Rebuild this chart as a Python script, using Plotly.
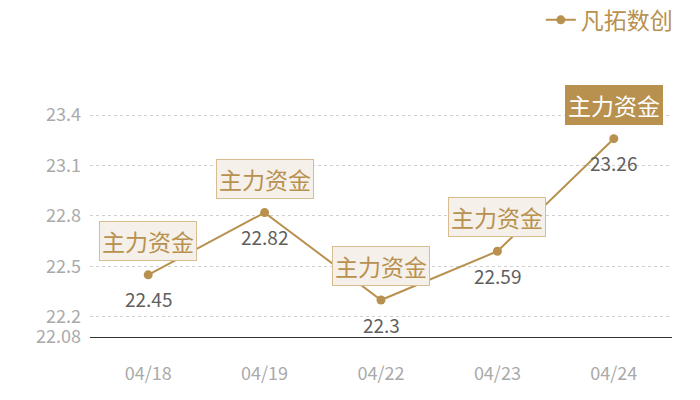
import plotly.graph_objects as go

# data
dates = ["04/18", "04/19", "04/22", "04/23", "04/24"]
prices = [22.45, 22.82, 22.3, 22.59, 23.26]
tag = "主力资金"
series_name = "凡拓数创"
y_ticks = [22.08, 22.2, 22.5, 22.8, 23.1, 23.4, 23.49]
y_tick_text = ["22.08", "22.2", "22.5", "22.8", "23.1", "23.4", ""]

GOLD = "#b8914f"
FONT = "Noto Sans CJK SC, Noto Sans, sans-serif"

fig = go.Figure()
fig.add_scatter(
    x=dates, y=prices, name=series_name,
    mode="lines+markers",
    line=dict(color=GOLD, width=2),
    marker=dict(color=GOLD, size=9),
)

# value labels under each point, tag boxes above
for i, (d, p) in enumerate(zip(dates, prices)):
    fig.add_annotation(
        x=d, y=p, text=str(p), showarrow=False, yshift=-24,
        font=dict(size=19, color="#5f5f5f", family=FONT),
    )
    last = i == len(dates) - 1
    fig.add_annotation(
        x=d, y=p, text=tag, showarrow=False, yshift=34,
        font=dict(size=23, color="white" if last else GOLD, family=FONT),
        bgcolor=GOLD if last else "#f5f0e9",
        bordercolor="#d7bd90" if not last else GOLD,
        borderwidth=1, borderpad=2,
    )

fig.update_xaxes(
    type="category", range=[-0.5, 4.5],
    showgrid=False, showline=True, linecolor="#333333", linewidth=1,
    ticks="", ticklabelstandoff=20,
    tickfont=dict(size=18, color="#aaaaaa", family=FONT),
)
fig.update_yaxes(
    range=[22.08, 23.49],
    tickvals=y_ticks, ticktext=y_tick_text,
    showgrid=True, gridcolor="#d0d0d0", griddash="dot", gridwidth=1,
    zeroline=False, ticks="", ticklabelstandoff=8,
    tickfont=dict(size=18, color="#aaaaaa", family=FONT),
)
fig.update_layout(
    width=700, height=400,
    margin=dict(l=82, r=36, t=92, b=71, autoexpand=False),
    plot_bgcolor="white", paper_bgcolor="white",
    font=dict(family=FONT),
    showlegend=True,
    legend=dict(
        x=1.01, xanchor="right", y=1.338, yanchor="middle",
        orientation="h",
        font=dict(size=23, color=GOLD, family=FONT),
        bgcolor="rgba(0,0,0,0)",
    ),
)

fig.write_html("out.html")
